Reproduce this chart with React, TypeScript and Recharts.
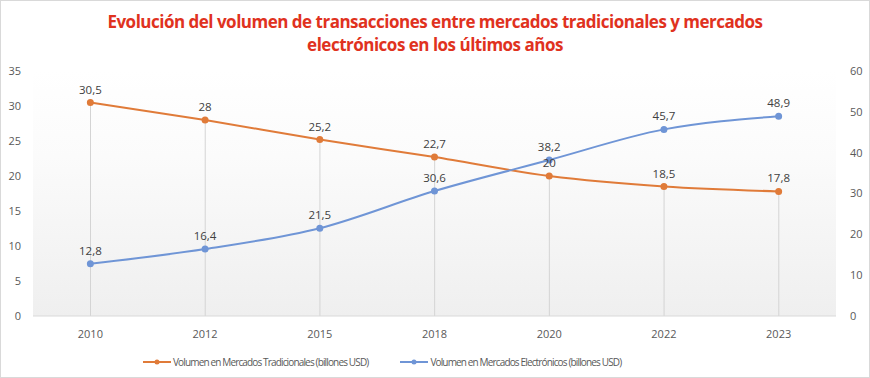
import { ComposedChart, Line, Bar, XAxis, YAxis, CartesianGrid, Legend, LabelList } from "recharts";

const years = ["2010", "2012", "2015", "2018", "2020", "2022", "2023"];
const traditional = [30.5, 28, 25.2, 22.7, 20, 18.5, 17.8];
const electronic = [12.8, 16.4, 21.5, 30.6, 38.2, 45.7, 48.9];
const leftTicks = [0, 5, 10, 15, 20, 25, 30, 35];
const rightTicks = [0, 10, 20, 30, 40, 50, 60];

const data = years.map((year, i) => ({
  year,
  trad: traditional[i],
  elec: electronic[i],
}));

const ORANGE = "#e07b39";
const BLUE = "#6f95d6";
const FONT = "'Open Sans', 'Noto Sans', sans-serif";

const fmt = (v: any) => String(v).replace(".", ",");

function LegendContent() {
  const item = (color: string, text: string) => (
    <div style={{ display: "flex", alignItems: "center", marginRight: 32 }}>
      <svg width={28} height={10}>
        <line x1={0} y1={5} x2={28} y2={5} stroke={color} strokeWidth={2} />
        <circle cx={14} cy={5} r={2.5} fill={color} />
      </svg>
      <span style={{ marginLeft: 2, letterSpacing: -0.85 }}>{text}</span>
    </div>
  );
  return (
    <div
      style={{
        height: 32,
        display: "flex",
        alignItems: "center",
        paddingLeft: 143,
        fontFamily: FONT,
        fontSize: 10,
        color: "#595959",
      }}
    >
      {item(ORANGE, "Volumen en Mercados Tradicionales (billones USD)")}
      {item(BLUE, "Volumen en Mercados Electrónicos (billones USD)")}
    </div>
  );
}

export default function App() {
  return (
    <div
      style={{
        position: "absolute",
        left: 0,
        top: 0,
        width: 868,
        height: 376,
        border: "1px solid #d9d9d9",
        background: "#fff",
        overflow: "hidden",
      }}
    >
      <div
        style={{
          position: "absolute",
          left: 0,
          top: 9,
          width: 868,
          textAlign: "center",
          fontFamily: FONT,
          fontWeight: 700,
          fontSize: 17,
          lineHeight: "23px",
          color: "#e0321e",
          letterSpacing: -0.5,
        }}
      >
        Evolución del volumen de transacciones entre mercados tradicionales y mercados
        <br />
        electrónicos en los últimos años
      </div>
      <div style={{ position: "absolute", left: -1, top: -1 }}>
        <ComposedChart
          width={870}
          height={378}
          data={data}
          margin={{ top: 71, right: 0, left: 0, bottom: 0 }}
        >
          <defs>
            <linearGradient id="bg" x1="0" y1="0" x2="0" y2="1">
              <stop offset="0%" stopColor="#ffffff" />
              <stop offset="35%" stopColor="#fbfbfb" />
              <stop offset="100%" stopColor="#efefef" />
            </linearGradient>
          </defs>
          <CartesianGrid fill="url(#bg)" horizontal={false} vertical={false} />
          <XAxis
            dataKey="year"
            height={30}
            tickLine={false}
            axisLine={{ stroke: "#d9d9d9" }}
            tick={{ fill: "#595959", fontSize: 11, fontFamily: FONT }}
            tickMargin={8}
          />
          <YAxis
            yAxisId="left"
            width={33}
            domain={[0, 35]}
            ticks={leftTicks}
            axisLine={false}
            tickLine={false}
            tick={{ fill: "#595959", fontSize: 11, fontFamily: FONT }}
            tickMargin={6}
          />
          <YAxis
            yAxisId="right"
            orientation="right"
            width={34}
            domain={[0, 60]}
            ticks={rightTicks}
            axisLine={false}
            tickLine={false}
            tick={{ fill: "#595959", fontSize: 11, fontFamily: FONT }}
            tickMargin={8}
          />
          <Legend verticalAlign="bottom" height={32} content={() => <LegendContent />} />
          <Bar
            yAxisId="left"
            dataKey="trad"
            barSize={1}
            fill="#d4d4d4"
            isAnimationActive={false}
            legendType="none"
          />
          <Line
            yAxisId="left"
            dataKey="trad"
            type="monotone"
            stroke={ORANGE}
            strokeWidth={2}
            dot={{ r: 2.5, fill: ORANGE, stroke: ORANGE }}
            isAnimationActive={false}
          >
            <LabelList
              dataKey="trad"
              position="top"
              offset={9}
              formatter={fmt}
              style={{ fill: "#404040", fontSize: 11.5, fontFamily: FONT }}
            />
          </Line>
          <Line
            yAxisId="right"
            dataKey="elec"
            type="monotone"
            stroke={BLUE}
            strokeWidth={2}
            dot={{ r: 2.5, fill: BLUE, stroke: BLUE }}
            isAnimationActive={false}
          >
            <LabelList
              dataKey="elec"
              position="top"
              offset={9}
              formatter={fmt}
              style={{ fill: "#404040", fontSize: 11.5, fontFamily: FONT }}
            />
          </Line>
        </ComposedChart>
      </div>
    </div>
  );
}
